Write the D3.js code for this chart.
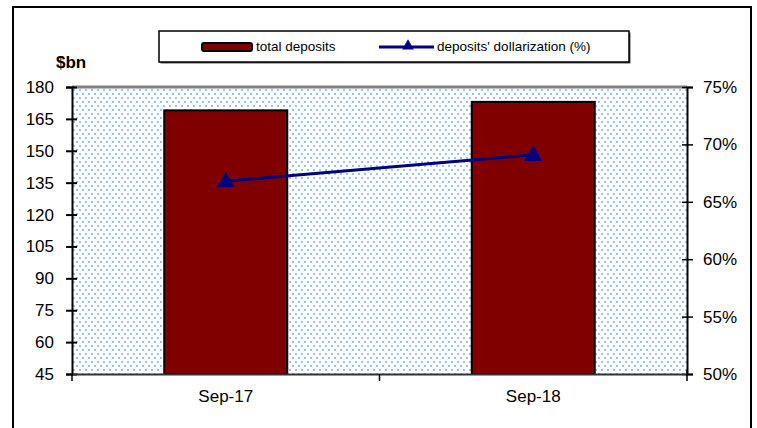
<!DOCTYPE html>
<html>
<head>
<meta charset="utf-8">
<script src="https://cdn.jsdelivr.net/npm/d3@7"></script>
<style>
  body { margin: 0; background: #fff; }
  svg text { font-family: Arial, "Liberation Sans", sans-serif; fill: #000; }
</style>
</head>
<body>
<div id="chart"></div>
<script>
// chart data
var categories = ["Sep-17", "Sep-18"];
var deposits = [169, 173];          // $bn, left axis
var dollarization = [66.8, 69.1];   // %, right axis
var leftTicks = [45, 60, 75, 90, 105, 120, 135, 150, 165, 180];
var rightTicks = [50, 55, 60, 65, 70, 75];

var width = 757, height = 428;
var plot = {left: 72, right: 687, top: 87, bottom: 374};

var svg = d3.select("#chart").append("svg")
    .attr("width", width)
    .attr("height", height);

// dotted fill pattern of the plot area
var defs = svg.append("defs");
var pat = defs.append("pattern")
    .attr("id", "dots")
    .attr("patternUnits", "userSpaceOnUse")
    .attr("width", 6).attr("height", 8)
    .attr("x", plot.left + 1).attr("y", plot.top + 2);
pat.append("rect").attr("width", 6).attr("height", 8).attr("fill", "#fff");
pat.append("rect").attr("x", 0).attr("y", 0).attr("width", 2).attr("height", 2).attr("fill", "#9cc3ee");
pat.append("rect").attr("x", 3).attr("y", 4).attr("width", 2).attr("height", 2).attr("fill", "#9cc3ee");

// outer frame (bottom edge runs off the picture)
svg.append("rect")
    .attr("x", 13).attr("y", 7)
    .attr("width", 738).attr("height", 440)
    .attr("fill", "none")
    .attr("stroke", "#000")
    .attr("stroke-width", 2);

var x = d3.scaleBand()
    .domain(categories)
    .range([plot.left, plot.right])
    .padding(0);

var y = d3.scaleLinear()
    .domain([45, 180])
    .range([plot.bottom, plot.top]);

var y2 = d3.scaleLinear()
    .domain([50, 75])
    .range([plot.bottom, plot.top]);

// plot area
svg.append("rect")
    .attr("x", plot.left).attr("y", plot.top)
    .attr("width", plot.right - plot.left)
    .attr("height", plot.bottom - plot.top)
    .attr("fill", "url(#dots)");

svg.append("line")
    .attr("x1", plot.left).attr("x2", plot.right)
    .attr("y1", plot.top).attr("y2", plot.top)
    .attr("stroke", "#808080")
    .attr("stroke-width", 3);

// bars
var barW = x.bandwidth() * 0.4;
svg.append("g").selectAll("rect")
    .data(deposits)
    .enter().append("rect")
        .attr("x", function(d, i) { return x(categories[i]) + (x.bandwidth() - barW) / 2; })
        .attr("y", function(d) { return y(d); })
        .attr("width", barW)
        .attr("height", function(d) { return plot.bottom - y(d); })
        .attr("fill", "#800000")
        .attr("stroke", "#000")
        .attr("stroke-width", 2);

// axes
var fontSize = 17;

var leftAxis = svg.append("g")
    .attr("transform", "translate(" + plot.left + ",0)")
    .call(d3.axisLeft(y).tickValues(leftTicks).tickSize(6).tickPadding(12));
leftAxis.selectAll(".tick line").attr("x1", 5).attr("stroke-width", 2);

var rightAxis = svg.append("g")
    .attr("transform", "translate(" + plot.right + ",0)")
    .call(d3.axisRight(y2).tickValues(rightTicks).tickSize(6).tickPadding(10)
        .tickFormat(function(d) { return d + "%"; }));
rightAxis.selectAll(".tick line").attr("x1", -5).attr("stroke-width", 1.5);

var bottomAxis = svg.append("g")
    .attr("transform", "translate(0," + plot.bottom + ")")
    .call(d3.axisBottom(x).tickSize(0).tickPadding(16));

[leftAxis, rightAxis, bottomAxis].forEach(function(g) {
    g.select(".domain").attr("stroke", "#000").attr("stroke-width", 2);
    g.selectAll("text").style("font-size", fontSize + "px").attr("fill", "#000");
});
bottomAxis.select(".domain").attr("stroke", "#333");

// category boundary ticks on the x axis
var boundaries = [plot.left].concat(categories.map(function(c) { return x(c) + x.bandwidth(); }));
svg.append("g").selectAll("line")
    .data(boundaries)
    .enter().append("line")
        .attr("x1", function(d) { return d; })
        .attr("x2", function(d) { return d; })
        .attr("y1", function(d, i) { return i === boundaries.length - 1 ? plot.bottom - 4 : plot.bottom; })
        .attr("y2", plot.bottom + 7)
        .attr("stroke", "#000")
        .attr("stroke-width", 1.5);

// dollarization line
var line = d3.line()
    .x(function(d, i) { return x(categories[i]) + x.bandwidth() / 2; })
    .y(function(d) { return y2(d); });

svg.append("path")
    .datum(dollarization)
    .attr("d", line)
    .attr("fill", "none")
    .attr("stroke", "#000080")
    .attr("stroke-width", 3);

var tri = d3.symbol().type(d3.symbolTriangle).size(140);
svg.append("g").selectAll("path")
    .data(dollarization)
    .enter().append("path")
        .attr("d", tri)
        .attr("transform", function(d, i) {
            return "translate(" + (x(categories[i]) + x.bandwidth() / 2) + "," + (y2(d) + 1) + ")";
        })
        .attr("fill", "#000080");

// unit label
svg.append("text")
    .attr("x", 56).attr("y", 68)
    .style("font-size", "17px")
    .style("font-weight", "bold")
    .text("$bn");

// legend
var legend = svg.append("g");
legend.append("rect")
    .attr("x", 160.5).attr("y", 32.5)
    .attr("width", 470).attr("height", 31)
    .attr("fill", "#555");
legend.append("rect")
    .attr("x", 159).attr("y", 31)
    .attr("width", 470).attr("height", 31)
    .attr("fill", "#fff")
    .attr("stroke", "#000")
    .attr("stroke-width", 1.5);

legend.append("rect")
    .attr("x", 202).attr("y", 43)
    .attr("width", 50).attr("height", 8)
    .attr("rx", 2)
    .attr("fill", "#800000")
    .attr("stroke", "#000")
    .attr("stroke-width", 2);
legend.append("text")
    .attr("x", 256).attr("y", 46)
    .attr("dy", "0.35em")
    .style("font-size", "13.5px")
    .text("total deposits");

legend.append("line")
    .attr("x1", 379).attr("x2", 434)
    .attr("y1", 47).attr("y2", 47)
    .attr("stroke", "#000080")
    .attr("stroke-width", 3);
legend.append("path")
    .attr("d", d3.symbol().type(d3.symbolTriangle).size(60))
    .attr("transform", "translate(408,46)")
    .attr("fill", "#000080");
legend.append("text")
    .attr("x", 437).attr("y", 46)
    .attr("dy", "0.35em")
    .style("font-size", "13.5px")
    .text("deposits' dollarization (%)");
</script>
</body>
</html>
